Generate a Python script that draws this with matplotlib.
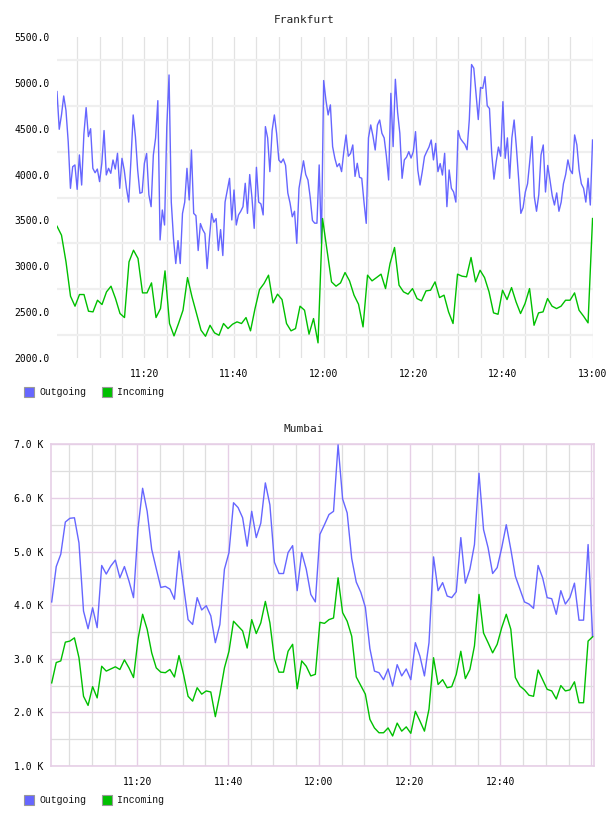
import matplotlib
matplotlib.use("Agg")
import matplotlib.pyplot as plt
from matplotlib.patches import Rectangle
import numpy as np

# ---------------- data ----------------
fra_title = "Frankfurt"
mum_title = "Mumbai"
series_names = ["Outgoing", "Incoming"]

fra_outgoing = [
    4905, 4494, 4650, 4857, 4700, 4359, 3850, 4086, 4105, 3839,
    4214, 3886, 4440, 4730, 4414, 4500, 4068, 4020, 4060, 3923,
    4123, 4480, 3996, 4068, 4014, 4159, 4060, 4232, 3850, 4177,
    4050, 3850, 3700, 4159, 4650, 4414, 4050, 3796, 3806, 4123,
    4230, 3780, 3650, 4214, 4400, 4806, 3287, 3614, 3450, 4523,
    5086, 3700, 3300, 3030, 3280, 3030, 3575, 3700, 4068, 3723,
    4268, 3577, 3552, 3172, 3466, 3400, 3357, 2975, 3300, 3575,
    3480, 3520, 3172, 3400, 3117, 3700, 3832, 3959, 3505, 3832,
    3450, 3560, 3600, 3650, 3905, 3577, 4000, 3750, 3414, 4079,
    3700, 3680, 3560, 4523, 4400, 4032, 4480, 4650, 4450, 4159,
    4130, 4170, 4100, 3800, 3690, 3540, 3600, 3250, 3850, 4000,
    4150, 4000, 3940, 3750, 3500, 3470, 3470, 4105, 3250, 5025,
    4814, 4650, 4760, 4305, 4177, 4086, 4120, 4032, 4250, 4432,
    4200, 4230, 4323, 3980, 4123, 3970, 3960, 3700, 3468, 4400,
    4541, 4420, 4268, 4540, 4595, 4450, 4400, 4200, 3941, 4886,
    4305, 5039, 4680, 4450, 3959, 4160, 4190, 4250, 4180, 4250,
    4468, 4050, 3886, 4030, 4196, 4250, 4300, 4377, 4160, 4340,
    4032, 4120, 3995, 4232, 3650, 4050, 3850, 3810, 3700, 4480,
    4395, 4360, 4330, 4270, 4600, 5200, 5160, 4880, 4600, 4950,
    4940, 5068, 4750, 4720, 4230, 3950, 4140, 4300, 4200, 4795,
    4177, 4400, 3959, 4400, 4595, 4300, 3959, 3577, 3640, 3810,
    3900, 4150, 4414, 3760, 3600, 3780, 4214, 4323, 3810, 4100,
    3940, 3770, 3668, 3800, 3600, 3700, 3900, 4000, 4160, 4050,
    4010, 4432, 4323, 4050, 3900, 3850, 3700, 3960, 3668, 4377,
]

fra_incoming = [
    3437, 3339, 3048, 2674, 2565, 2692, 2692, 2510, 2503, 2630,
    2583, 2721, 2783, 2648, 2485, 2441, 3048, 3175, 3085, 2710,
    2710, 2819, 2441, 2539, 2950, 2376, 2241, 2376, 2521, 2877,
    2666, 2485, 2303, 2237, 2357, 2274, 2248, 2376, 2321, 2368,
    2394, 2376, 2441, 2296, 2539, 2746, 2812, 2903, 2601, 2696,
    2637, 2376, 2296, 2321, 2565, 2521, 2260, 2430, 2165, 3521,
    3175, 2830, 2783, 2819, 2932, 2841, 2685, 2586, 2339, 2903,
    2841, 2877, 2914, 2757, 3030, 3205, 2794, 2721, 2696, 2757,
    2648, 2623, 2732, 2739, 2830, 2659, 2685, 2503, 2376, 2914,
    2892, 2885, 3096, 2830, 2957, 2877, 2721, 2492, 2477, 2739,
    2637, 2768, 2612, 2485, 2594, 2757, 2357, 2492, 2503, 2648,
    2565, 2539, 2565, 2630, 2630, 2710, 2521, 2456, 2383, 3521,
]

# Mumbai values in thousands (K)
mum_outgoing = [
    4.06, 4.72, 4.95, 5.55, 5.62, 5.63, 5.16, 3.89, 3.56, 3.95,
    3.58, 4.74, 4.58, 4.73, 4.84, 4.51, 4.72, 4.45, 4.14, 5.44,
    6.18, 5.75, 5.04, 4.68, 4.33, 4.35, 4.30, 4.11, 5.01, 4.36,
    3.73, 3.64, 4.14, 3.91, 3.99, 3.80, 3.30, 3.64, 4.67, 4.98,
    5.91, 5.82, 5.63, 5.10, 5.75, 5.26, 5.53, 6.28, 5.87, 4.80,
    4.59, 4.59, 4.98, 5.11, 4.27, 4.98, 4.67, 4.20, 4.06, 5.32,
    5.50, 5.69, 5.75, 6.99, 5.98, 5.72, 4.87, 4.43, 4.24, 3.96,
    3.19, 2.77, 2.74, 2.61, 2.81, 2.49, 2.89, 2.68, 2.81, 2.61,
    3.30, 3.05, 2.68, 3.30, 4.90, 4.27, 4.42, 4.17, 4.14, 4.25,
    5.26, 4.41, 4.67, 5.13, 6.46, 5.41, 5.07, 4.59, 4.70, 5.07,
    5.50, 5.04, 4.54, 4.30, 4.06, 4.02, 3.94, 4.74, 4.51, 4.14,
    4.12, 3.83, 4.27, 4.02, 4.14, 4.41, 3.72, 3.72, 5.13, 3.42,
]

mum_incoming = [
    2.55, 2.93, 2.96, 3.31, 3.33, 3.39, 3.02, 2.30, 2.13, 2.48,
    2.27, 2.86, 2.77, 2.81, 2.85, 2.80, 2.98, 2.83, 2.65, 3.37,
    3.83, 3.55, 3.11, 2.83, 2.75, 2.74, 2.80, 2.66, 3.06, 2.71,
    2.30, 2.21, 2.46, 2.34, 2.40, 2.38, 1.92, 2.34, 2.83, 3.14,
    3.70, 3.61, 3.52, 3.20, 3.73, 3.47, 3.67, 4.07, 3.67, 2.99,
    2.75, 2.75, 3.14, 3.27, 2.44, 2.96, 2.86, 2.68, 2.71, 3.68,
    3.66, 3.73, 3.76, 4.51, 3.86, 3.70, 3.42, 2.66, 2.50, 2.34,
    1.87, 1.71, 1.62, 1.62, 1.71, 1.56, 1.80, 1.65, 1.73, 1.61,
    2.02, 1.84, 1.65, 2.06, 3.02, 2.52, 2.61, 2.46, 2.48, 2.71,
    3.14, 2.63, 2.80, 3.24, 4.20, 3.48, 3.30, 3.11, 3.27, 3.58,
    3.83, 3.55, 2.65, 2.49, 2.42, 2.32, 2.30, 2.79, 2.61, 2.43,
    2.40, 2.25, 2.50, 2.40, 2.42, 2.57, 2.18, 2.18, 3.33, 3.41,
]

# time axis: minutes after 11:00
fra_start, fra_end = 0.5, 120.0
mum_start, mum_end = 1.15, 120.3
time_ticks = [20, 40, 60, 80, 100, 120]
time_labels = ["11:20", "11:40", "12:00", "12:20", "12:40", "13:00"]
mum_time_labels = ["11:20", "11:40", "12:00", "12:20", "12:40", ""]
fra_yticks = [2000, 2500, 3000, 3500, 4000, 4500, 5000, 5500]
mum_yticks = [1, 2, 3, 4, 5, 6, 7]

# ---------------- style ----------------
BLUE = "#6666ff"
GREEN = "#00c000"
MONO = ["DejaVu Sans Mono"]
W, H = 608, 816

fig = plt.figure(figsize=(W / 100, H / 100), dpi=100)


def rect(l, t, r, b):
    return [l / W, 1 - b / H, (r - l) / W, (b - t) / H]


# ---- Frankfurt ----
ax1 = fig.add_axes(rect(57, 37, 593, 358))
t_out = np.linspace(fra_start, fra_end, len(fra_outgoing))
t_in = np.linspace(fra_start, fra_end, len(fra_incoming))
ax1.plot(t_out, fra_outgoing, color=BLUE, lw=1.0, zorder=3)
ax1.plot(t_in, fra_incoming, color=GREEN, lw=1.0, zorder=3)
ax1.set_xlim(0.5, 120.1)
ax1.set_ylim(2000, 5500)
ax1.set_yticks(fra_yticks)
ax1.set_yticklabels([f"{v:.1f}" for v in fra_yticks])
ax1.set_yticks(np.arange(2250, 5500, 500), minor=True)
ax1.set_xticks(time_ticks)
ax1.set_xticklabels(time_labels)
ax1.set_xticks(np.arange(5, 121, 5), minor=True)
ax1.grid(False)
ax1.grid(which="minor", axis="y", color="#efefef", lw=1.6, zorder=0)
ax1.grid(which="both", axis="x", color="#e2e2e2", lw=0.9, zorder=0)
for s in ax1.spines.values():
    s.set_visible(False)
ax1.tick_params(which="both", length=0)
ax1.tick_params(axis="y", pad=5, labelsize=7)
ax1.tick_params(axis="x", pad=8, labelsize=7)
for lab in ax1.get_xticklabels() + ax1.get_yticklabels():
    lab.set_family(MONO)
fig.text(304 / W, 1 - 20 / H, fra_title, ha="center", va="center",
         fontsize=8, family=MONO, color="#222222")

# ---- Mumbai ----
PINK = "#e6cfe6"
ax2 = fig.add_axes(rect(50.7, 444.3, 594, 766))
tm = np.linspace(mum_start, mum_end, len(mum_outgoing))
ax2.plot(tm, mum_outgoing, color=BLUE, lw=1.0, zorder=3)
ax2.plot(tm, mum_incoming, color=GREEN, lw=1.0, zorder=3)
ax2.set_xlim(0.93, 120.6)
ax2.set_ylim(1, 7)
ax2.set_yticks(mum_yticks)
ax2.set_yticklabels([f"{v:.1f} K" for v in mum_yticks])
ax2.set_yticks(np.arange(1.5, 7, 1.0), minor=True)
ax2.set_xticks(time_ticks)
ax2.set_xticklabels(mum_time_labels)
ax2.set_xticks([m for m in range(5, 121, 5) if m % 20], minor=True)
ax2.grid(which="major", color=PINK, lw=1.0, zorder=0)
ax2.grid(which="minor", color="#dedede", lw=0.9, zorder=0)
for s in ax2.spines.values():
    s.set_color(PINK)
    s.set_linewidth(1.2)
ax2.tick_params(which="both", length=0)
ax2.tick_params(axis="y", pad=5, labelsize=7)
ax2.tick_params(axis="x", pad=8, labelsize=7)
for lab in ax2.get_xticklabels() + ax2.get_yticklabels():
    lab.set_family(MONO)
fig.text(304 / W, 1 - 429 / H, mum_title, ha="center", va="center",
         fontsize=8, family=MONO, color="#222222")

# ---- legends ----
for ycen in (392, 800):
    for x0, col, name in ((24, BLUE, series_names[0]), (102, GREEN, series_names[1])):
        fig.add_artist(Rectangle(((x0) / W, 1 - (ycen + 5) / H), 10 / W, 10 / H,
                                 transform=fig.transFigure, facecolor=col,
                                 edgecolor="#999999", lw=0.8))
        fig.text((x0 + 15) / W, 1 - ycen / H, name, ha="left", va="center",
                 fontsize=7, family=["Liberation Mono", "DejaVu Sans Mono"],
                 color="#111111")

fig.savefig("out.png", dpi=100)
